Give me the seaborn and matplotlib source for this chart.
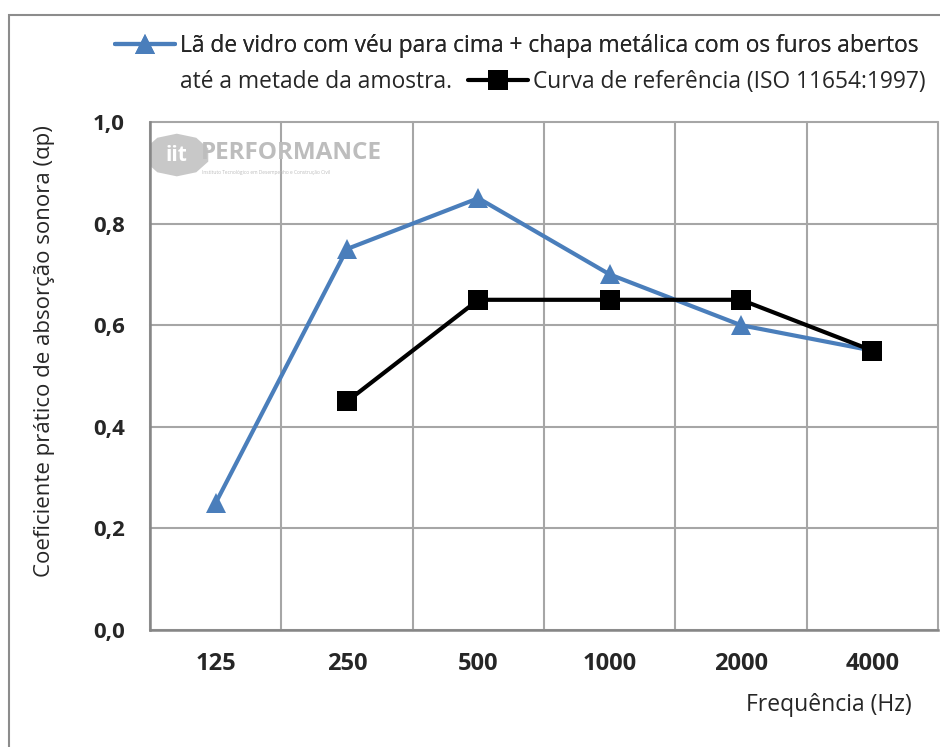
import matplotlib
matplotlib.use("Agg")
import matplotlib.pyplot as plt
import matplotlib.patches as mpatches
from matplotlib.lines import Line2D
import numpy as np
import pandas as pd
import seaborn as sns

# Octave-band centre frequencies (Hz)
frequencies = ["125", "250", "500", "1000", "2000", "4000"]
# Practical sound absorption coefficient of the tested sample
sample_alpha = [0.25, 0.75, 0.85, 0.70, 0.60, 0.55]
# ISO 11654:1997 reference curve (no value at 125 Hz)
reference_alpha = [np.nan, 0.45, 0.65, 0.65, 0.65, 0.55]
y_ticks = [0.0, 0.2, 0.4, 0.6, 0.8, 1.0]

sample_label = "Lã de vidro com véu para cima + chapa metálica com os furos abertos"
sample_label_cont = "até a metade da amostra."
reference_label = "Curva de referência (ISO 11654:1997)"

sns.set_theme(style="white")
plt.rcParams["font.family"] = ["Open Sans", "DejaVu Sans"]

BLUE = "#4A7EBB"
GRID = "#A6A6A6"
AXIS = "#868686"
LEG_FS = 16.4

fig = plt.figure(figsize=(9.4, 7.47), dpi=100)
ax = fig.add_axes([150 / 940, 1 - 630 / 747, 788 / 940, 508 / 747])

df_sample = pd.DataFrame({"freq": frequencies, "alpha": sample_alpha})
df_ref = pd.DataFrame({"freq": frequencies, "alpha": reference_alpha}).dropna()

sns.lineplot(data=df_sample, x="freq", y="alpha", ax=ax, color=BLUE,
             linewidth=3.0, marker="^", markersize=14, markeredgewidth=0,
             markerfacecolor=BLUE, zorder=4, sort=False)
sns.lineplot(data=df_ref, x="freq", y="alpha", ax=ax, color="black",
             linewidth=3.0, marker="s", markersize=15, markeredgewidth=0,
             markerfacecolor="black", zorder=5, sort=False)

ax.set_xlim(-0.5, len(frequencies) - 0.5)
ax.set_ylim(0, 1.0)

# category boundaries carry the vertical grid; labels sit at category centres
bounds = np.arange(-0.5, len(frequencies), 1.0)
ax.set_xticks(bounds)
ax.set_xticklabels([])
ax.set_xticks(np.arange(len(frequencies)), minor=True)
ax.set_xticklabels(frequencies, minor=True, fontsize=17, fontweight="bold")
ax.tick_params(axis="x", which="minor", length=0, pad=16)
ax.tick_params(axis="x", which="major", length=8, width=1.5, color=AXIS, direction="out")
for i, t in enumerate(ax.xaxis.get_major_ticks()):
    if i % 2 == 1:
        t.tick1line.set_markersize(0)

ax.set_yticks(y_ticks)
ax.set_yticklabels([f"{v:.1f}".replace(".", ",") for v in y_ticks],
                   fontsize=16, fontweight="bold")
ax.tick_params(axis="y", length=8, width=1.5, color=AXIS, direction="out", pad=10)

ax.grid(True, which="major", axis="both", color=GRID, linewidth=1.5)
for gl in ax.get_xgridlines() + ax.get_ygridlines():
    gl.set_clip_on(False)
for s in ["top", "right"]:
    ax.spines[s].set_visible(False)
for s in ["left", "bottom"]:
    ax.spines[s].set_color(AXIS)
    ax.spines[s].set_linewidth(1.8)
    ax.spines[s].set_zorder(3)

ax.set_xlabel("")
ax.set_ylabel("")

fig.text(45 / 940, 1 - 351 / 747, "Coeficiente prático de absorção sonora (αp)",
         rotation=90, ha="center", va="center", fontsize=16)
fig.text(829 / 940, 1 - 705 / 747, "Frequência (Hz)", ha="center", va="center",
         fontsize=16.5)

# watermark logo
ax.add_patch(mpatches.RegularPolygon((0.034, 0.935), numVertices=10, radius=0.042,
                                     transform=ax.transAxes, facecolor="#C8C8C8",
                                     edgecolor="none", zorder=1))
ax.text(0.034, 0.935, "iit", transform=ax.transAxes, ha="center", va="center",
        fontsize=15, fontweight="bold", color="white", zorder=2)
ax.text(0.064, 0.938, "PERFORMANCE", transform=ax.transAxes, ha="left", va="center",
        fontsize=17.5, fontweight="bold", color="#BDBDBD", zorder=2)
ax.text(0.066, 0.9, "Instituto Tecnológico em Desempenho e Construção Civil",
        transform=ax.transAxes, ha="left", va="center", fontsize=3.5,
        color="#BDBDBD", zorder=2)

# legend: the first entry's label wraps onto a second row, where the
# second entry follows it
h_sample = Line2D([], [], color=BLUE, linewidth=3.0, marker="^", markersize=14,
                  markeredgewidth=0)
h_ref = Line2D([], [], color="black", linewidth=3.0, marker="s", markersize=15,
               markeredgewidth=0)
leg_kw = dict(loc="center left", frameon=False, fontsize=LEG_FS, handlelength=2.65,
              handletextpad=0.2, borderpad=0, borderaxespad=0)
leg1 = fig.legend([h_sample], [sample_label], bbox_to_anchor=(115 / 940, 1 - 46 / 747),
                  **leg_kw)
leg2 = fig.legend([h_ref], [reference_label], bbox_to_anchor=(468 / 940, 1 - 82 / 747),
                  **leg_kw)
fig.add_artist(leg1)
fig.text(180 / 940, 1 - 82 / 747, sample_label_cont, ha="left", va="center",
         fontsize=LEG_FS)

# outer chart frame
fig.add_artist(mpatches.Rectangle((9 / 940, -0.05), 1.0, 1 - 15 / 747 + 0.05,
                                  transform=fig.transFigure, fill=False,
                                  edgecolor="#8C8C8C", linewidth=1.5))

fig.savefig("out.png", dpi=100)
